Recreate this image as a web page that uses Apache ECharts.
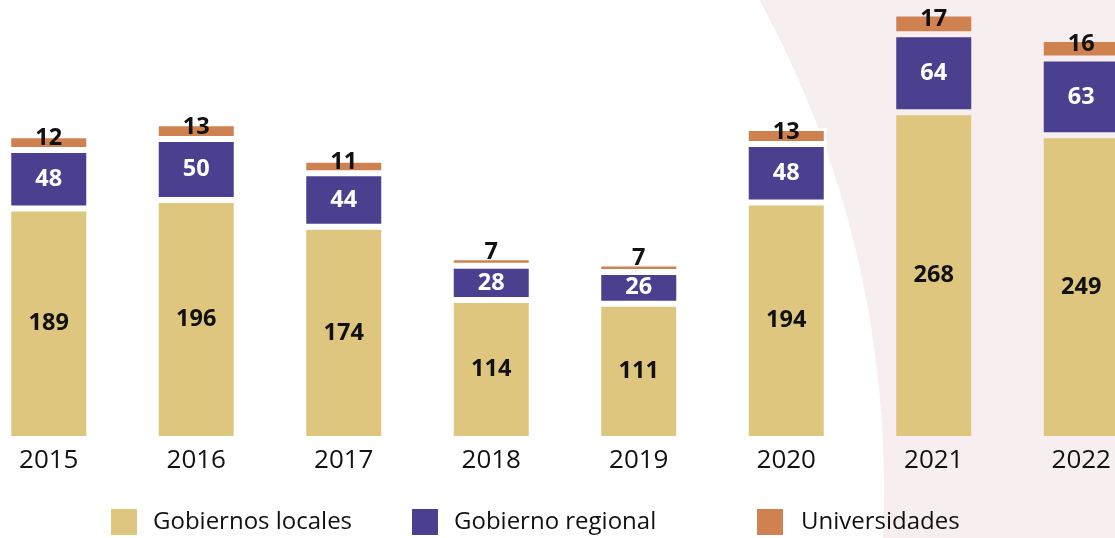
<!DOCTYPE html>
<html>
<head>
<meta charset="utf-8">
<script src="https://cdn.jsdelivr.net/npm/echarts@6/dist/echarts.min.js"></script>
<style>
  html, body { margin: 0; padding: 0; background: #fff; }
  #chart { width: 1115px; height: 538px; }
</style>
</head>
<body>
<div id="chart"></div>
<script>
const years = ['2015', '2016', '2017', '2018', '2019', '2020', '2021', '2022'];
const gobiernosLocales = [189, 196, 174, 114, 111, 194, 268, 249];
const gobiernoRegional = [48, 50, 44, 28, 26, 48, 64, 63];
const universidades = [12, 13, 11, 7, 7, 13, 17, 16];

const FONT = '"Open Sans", sans-serif';
const colores = ['#DEC67E', '#4B3F8F', '#CF8150'];
const ROSA = '#F7EEF0';

// los dos ultimos años quedan sobre el fondo rosado
const borde = (i) => (i >= 6 ? ROSA : '#fff');

const etiqueta = (color) => ({
    show: true,
    position: 'inside',
    color: color,
    fontFamily: FONT,
    fontSize: 23.5,
    fontWeight: 'bold'
});

const serie = (name, data, idx, labelColor) => ({
    name: name,
    type: 'bar',
    stack: 'total',
    barWidth: 81,
    data: data.map((v, i) => ({ value: v, itemStyle: { borderColor: borde(i) } })),
    itemStyle: { color: colores[idx], borderColor: '#fff', borderWidth: 3 },
    label: etiqueta(labelColor)
});

const leyenda = (name, left, gap) => ({
    data: [name],
    left: left,
    top: 509,
    padding: 0,
    itemWidth: 26,
    itemHeight: 26,
    icon: 'rect',
    itemStyle: { borderWidth: 0 },
    textStyle: { fontFamily: FONT, fontSize: 24, color: '#111', padding: [0, 0, 0, gap] }
});

const myChart = echarts.init(document.getElementById('chart'));
const uniSerie = serie('Universidades', universidades, 2, '#111');
uniSerie.label.offset = [0, -4];
uniSerie.data.forEach(d => {
    if (d.value < 10) d.label = { offset: [0, -9] };
});

myChart.setOption({
    backgroundColor: ROSA,
    animation: false,
    graphic: [{
        type: 'circle',
        z: -10,
        silent: true,
        shape: { cx: -139, cy: 489, r: 1023 },
        style: { fill: '#fff' }
    }],
    grid: { left: -25, right: -40, top: 0, bottom: 99, outerBoundsMode: 'none' },
    legend: [
        leyenda('Gobiernos locales', 111, 11),
        leyenda('Gobierno regional', 412, 11),
        leyenda('Universidades', 757, 13)
    ],
    xAxis: {
        type: 'category',
        data: years,
        axisLine: { show: false },
        axisTick: { show: false },
        axisLabel: { fontFamily: FONT, fontSize: 26, color: '#111', margin: 9 }
    },
    yAxis: {
        type: 'value',
        min: 0,
        max: 360,
        show: false,
        splitLine: { show: false }
    },
    series: [
        serie('Gobiernos locales', gobiernosLocales, 0, '#111'),
        serie('Gobierno regional', gobiernoRegional, 1, '#fff'),
        uniSerie
    ]
});
</script>
</body>
</html>
